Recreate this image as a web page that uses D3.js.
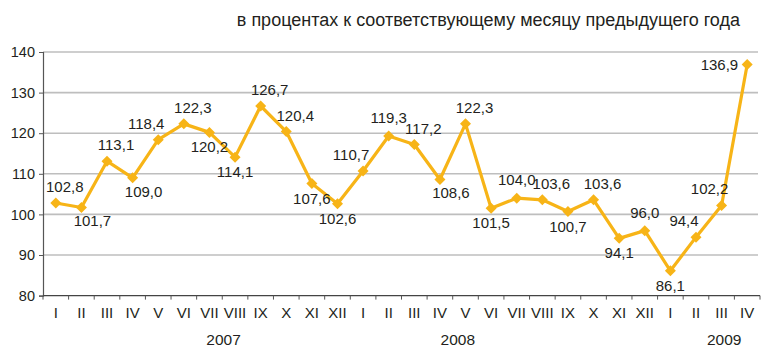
<!DOCTYPE html>
<html>
<head>
<meta charset="utf-8">
<script src="https://cdn.jsdelivr.net/npm/d3@7"></script>
<style>
  html, body { margin: 0; padding: 0; background: #fff; }
  svg { display: block; font-family: Arial, "Liberation Sans", Helvetica, sans-serif; }
</style>
</head>
<body>
<svg id="chart" width="775" height="349"></svg>
<script>
// Monthly index, % of the same month of the previous year
const months = ["I","II","III","IV","V","VI","VII","VIII","IX","X","XI","XII",
                "I","II","III","IV","V","VI","VII","VIII","IX","X","XI","XII",
                "I","II","III","IV"];
const values = [102.8, 101.7, 113.1, 109.0, 118.4, 122.3, 120.2, 114.1, 126.7, 120.4, 107.6, 102.6,
                110.7, 119.3, 117.2, 108.6, 122.3, 101.5, 104.0, 103.6, 100.7, 103.6, 94.1, 96.0,
                86.1, 94.4, 102.2, 136.9];
const years = ["2007", "2008", "2009"];
const yTicks = [80, 90, 100, 110, 120, 130, 140];
// Where each value label sits relative to its marker
const labelSide = ["tr","br","tr","br","tl","tr","b","b","tr","tr","b","b",
                   "tl","t","tr","br","tr","b","t","tr","b","tr","b","t",
                   "b","tl","tl","l"];
const title = "в процентах к соответствующему месяцу предыдущего года";

const svg = d3.select("#chart");
const plotLeft = 43, plotRight = 760, plotTop = 52, plotBottom = 295.6;
const lineColor = "#F7B417";
const textColor = "#231F20";

const x = d3.scaleBand().domain(d3.range(values.length)).range([plotLeft, plotRight]);
const y = d3.scaleLinear().domain([80, 140]).range([plotBottom, plotTop]);
const cx = i => x(i) + x.bandwidth() / 2;

// Title
svg.append("text")
  .attr("x", 740).attr("y", 26)
  .attr("text-anchor", "end")
  .attr("font-size", 18)
  .attr("fill", textColor)
  .text(title);

// Horizontal grid lines
svg.append("g").selectAll("line")
  .data(yTicks.filter(t => t > 80))
  .join("line")
  .attr("x1", plotLeft).attr("x2", plotRight - 2)
  .attr("y1", d => y(d)).attr("y2", d => y(d))
  .attr("stroke", "#BEBEBE").attr("stroke-width", 1.6);

// Y axis
const yAxis = svg.append("g")
  .attr("transform", `translate(${plotLeft},0)`)
  .call(d3.axisLeft(y).tickValues(yTicks).tickSize(4).tickPadding(4).tickFormat(d3.format("d")));
yAxis.select(".domain").attr("stroke", "#555").attr("stroke-width", 1.2);
yAxis.selectAll(".tick line").attr("stroke", "#555");
yAxis.selectAll(".tick text")
  .attr("font-size", 14.5).attr("fill", textColor)
  .attr("font-family", "Arial, 'Liberation Sans', sans-serif");

// X axis: ticks on category boundaries
const xAxisG = svg.append("g").attr("transform", `translate(0,${plotBottom})`);
xAxisG.append("line")
  .attr("x1", plotLeft).attr("x2", plotRight)
  .attr("stroke", "#444").attr("stroke-width", 1.2);
xAxisG.selectAll("line.tk")
  .data(d3.range(values.length + 1))
  .join("line").attr("class", "tk")
  .attr("x1", i => plotLeft + i * x.step()).attr("x2", i => plotLeft + i * x.step())
  .attr("y1", 0).attr("y2", 4)
  .attr("stroke", "#555").attr("stroke-width", 1);
xAxisG.selectAll("text.mo")
  .data(months)
  .join("text").attr("class", "mo")
  .attr("x", (d, i) => cx(i)).attr("y", 22)
  .attr("text-anchor", "middle")
  .attr("font-size", 15).attr("fill", textColor)
  .text(d => d);

// Year captions, anchored at a fractional month position
const yearAt = [7.05, 16.2, 26.6];
xAxisG.selectAll("text.yr")
  .data(years)
  .join("text").attr("class", "yr")
  .attr("x", (d, i) => plotLeft + yearAt[i] * x.step()).attr("y", 49)
  .attr("text-anchor", "middle")
  .attr("font-size", 15.5).attr("fill", textColor)
  .text(d => d);

// Line
svg.append("path")
  .datum(values)
  .attr("fill", "none")
  .attr("stroke", lineColor)
  .attr("stroke-width", 3.2)
  .attr("stroke-linejoin", "round")
  .attr("d", d3.line().x((d, i) => cx(i)).y(d => y(d)));

// Diamond markers
const r = 5.5;
svg.append("g").selectAll("path")
  .data(values)
  .join("path")
  .attr("transform", (d, i) => `translate(${cx(i)},${y(d)})`)
  .attr("d", `M0,${-r}L${r},0L0,${r}L${-r},0Z`)
  .attr("fill", lineColor);

// Value labels
const fmt = v => v.toFixed(1).replace(".", ",");
const place = {
  t:  [0, -13, "middle"],
  b:  [0, 20, "middle"],
  tr: [9, -11, "middle"],
  br: [11, 19, "middle"],
  tl: [-12, -11, "middle"],
  l:  [-9, 5, "end"]
};
svg.append("g").selectAll("text")
  .data(values)
  .join("text")
  .attr("x", (d, i) => cx(i) + place[labelSide[i]][0])
  .attr("y", (d, i) => y(d) + place[labelSide[i]][1])
  .attr("text-anchor", (d, i) => place[labelSide[i]][2])
  .attr("font-size", 15).attr("fill", textColor)
  .text(d => fmt(d));
</script>
</body>
</html>
